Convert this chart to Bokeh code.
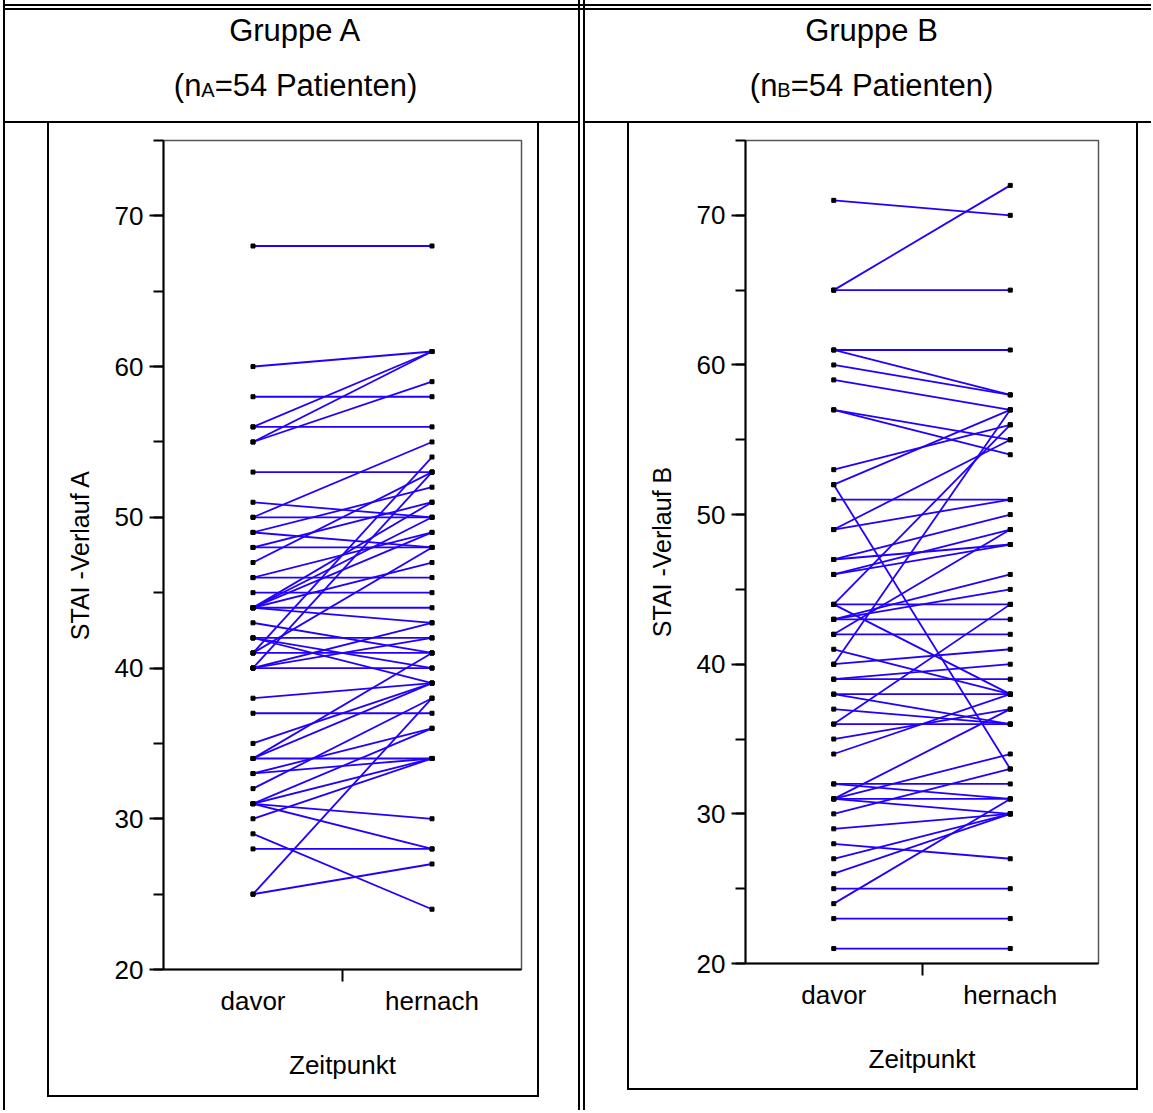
from bokeh.plotting import figure
from bokeh.layouts import row, column
from bokeh.models import Spacer, Range1d, SingleIntervalTicker, FixedTicker, ColumnDataSource
from bokeh.core.properties import value
from bokeh.embed import file_html
from bokeh.resources import INLINE

# ---------------- data ----------------
categories = ["davor", "hernach"]
y_ticks_major = 10

A_davor = [68, 60, 58, 56, 56, 55, 55, 53, 51, 50, 50, 49, 49, 48, 48, 47, 46, 46, 45, 44,
           44, 44, 44, 44, 43, 42, 42, 42, 41, 41, 41, 40, 40, 40, 40, 38, 37, 35, 34, 34,
           34, 33, 33, 32, 31, 31, 31, 31, 30, 29, 28, 25, 25, 44]
A_hernach = [68, 61, 58, 56, 61, 61, 59, 53, 50, 55, 50, 48, 52, 48, 51, 53, 46, 49, 45, 44,
             43, 51, 49, 47, 41, 42, 40, 39, 41, 54, 48, 40, 42, 43, 53, 39, 37, 39, 34, 39,
             41, 34, 36, 38, 30, 28, 34, 36, 34, 24, 28, 38, 27, 50]

B_davor = [71, 65, 65, 61, 61, 60, 59, 57, 57, 53, 52, 52, 51, 49, 49, 47, 47, 46, 44, 44,
           44, 43, 43, 43, 42, 42, 41, 40, 40, 39, 39, 38, 38, 37, 36, 36, 35, 34, 32, 32,
           31, 31, 31, 31, 30, 29, 28, 27, 26, 25, 24, 23, 21, 46]
B_hernach = [70, 72, 65, 61, 58, 58, 57, 55, 54, 56, 57, 33, 51, 55, 51, 50, 48, 48, 44, 38,
             56, 43, 46, 45, 42, 49, 38, 41, 57, 39, 40, 38, 36, 36, 36, 44, 37, 38, 32, 31,
             31, 30, 37, 34, 33, 30, 27, 30, 30, 25, 31, 23, 21, 49]

groups = ["Gruppe A", "Gruppe B"]
subs = ["A", "B"]
n_patients = [54, 54]
y_labels = ["STAI -Verlauf A", "STAI -Verlauf B"]
x_title = "Zeitpunkt"

FONT_NAME = "Liberation Sans"
FONT = value(FONT_NAME)
LINE_COLOR = "#2200FF"


def blk(w, h, color="black"):
    return Spacer(width=w, height=h, styles={"background-color": color})


def white(w, h):
    return Spacer(width=w, height=h)


def header(w, h, title, sub, n, cx):
    p = figure(width=w, height=h, x_range=Range1d(0, w), y_range=Range1d(h, 0),
               min_border=0, toolbar_location=None, output_backend="svg",
               x_axis_type=None, y_axis_type=None, outline_line_color=None)
    p.grid.visible = False
    p.text(x=[cx], y=[20], text=[title], text_font=FONT, text_font_size="31px",
           text_align="center", text_baseline="alphabetic", text_color="black")
    F = 31.0
    w1 = 0.889 * F
    w2 = 0.667 * 20
    rest = "=%d Patienten)" % n
    w3 = 6.532 * F
    x0 = cx - (w1 + w2 + w3) / 2
    p.text(x=[x0], y=[75], text=["(n"], text_font=FONT, text_font_size="31px",
           text_align="left", text_baseline="alphabetic", text_color="black")
    p.text(x=[x0 + w1], y=[79], text=[sub], text_font=FONT, text_font_size="20px",
           text_align="left", text_baseline="alphabetic", text_color="black")
    p.text(x=[x0 + w1 + w2], y=[75], text=[rest], text_font=FONT, text_font_size="31px",
           text_align="left", text_baseline="alphabetic", text_color="black")
    return p


def panel(w, h, bl, br, bt, bb, dav, her, ylabel):
    p = figure(width=w, height=h, x_range=Range1d(0, len(categories)), y_range=Range1d(20, 75),
               min_border_left=bl, min_border_right=br, min_border_top=bt, min_border_bottom=bb,
               toolbar_location=None, output_backend="svg")
    p.grid.visible = False
    p.outline_line_color = "#555555"
    p.outline_line_width = 1.5

    pos = [i + 0.5 for i in range(len(categories))]
    n = len(dav)
    src = ColumnDataSource(dict(x0=[pos[0]] * n, y0=dav, x1=[pos[1]] * n, y1=her))
    p.segment("x0", "y0", "x1", "y1", source=src, line_color=LINE_COLOR, line_width=1.8)
    p.scatter(x=[pos[0]] * n + [pos[1]] * n, y=list(dav) + list(her), marker="square",
              size=4, fill_color="black", line_color="black")

    yax = p.yaxis[0]
    yax.ticker = SingleIntervalTicker(interval=y_ticks_major, num_minor_ticks=2)
    yax.major_tick_out = 14
    yax.major_tick_in = 0
    yax.minor_tick_out = 10
    yax.minor_tick_in = 0
    yax.major_label_standoff = 6
    yax.axis_label = ylabel
    yax.axis_label_standoff = 18
    yax.axis_label_text_font_size = "25px"

    xax = p.xaxis[0]
    xax.ticker = FixedTicker(ticks=pos, minor_ticks=[1.0])
    xax.major_label_overrides = {pos[i]: categories[i] for i in range(len(categories))}
    xax.major_tick_out = 0
    xax.major_tick_in = 0
    xax.minor_tick_out = 12
    xax.minor_tick_in = 0
    xax.major_label_standoff = 4
    xax.axis_label = x_title
    xax.axis_label_standoff = 31
    xax.axis_label_text_font_size = "26px"

    for ax in (xax, yax):
        ax.axis_line_color = "black"
        ax.axis_line_width = 2
        ax.major_tick_line_color = "black"
        ax.major_tick_line_width = 2
        ax.minor_tick_line_color = "black"
        ax.minor_tick_line_width = 2
        ax.major_label_text_font = FONT_NAME
        ax.major_label_text_font_size = "26px"
        ax.major_label_text_color = "black"
        ax.axis_label_text_font = FONT_NAME
        ax.axis_label_text_font_style = "normal"
        ax.axis_label_text_color = "black"
    return p


H = 1110
REG = H - 123

# ---------- column A ----------
WA = 573
topA = column(white(WA, 4), blk(WA, 2), white(WA, 2), blk(WA, 2))
headA = header(WA, 111, groups[0], subs[0], n_patients[0], 290)
figA = panel(488, 972, 114, 16, 17, 126, A_davor, A_hernach, y_labels[0])
boxA = column(row(blk(2, 972), figA, blk(2, 972)), blk(492, 2), white(492, REG - 974))
regA = row(white(42, REG), boxA, white(39, REG))
colA = column(topA, headA, blk(WA, 2), regA)

# ---------- column B ----------
WB = 566
topB = column(white(WB, 4), blk(WB, 2), white(WB, 2), blk(WB, 2))
headB = header(WB, 111, groups[1], subs[1], n_patients[1], 286)
figB = panel(507, 965, 116, 38, 17, 125, B_davor, B_hernach, y_labels[1])
boxB = column(row(blk(2, 965), figB, blk(2, 965)), blk(511, 2), white(511, REG - 967))
regB = row(white(42, REG), boxB, white(13, REG))
colB = column(topB, headB, blk(WB, 2), regB)

# ---------- table borders ----------
left_border = blk(2, H)
divider = row(blk(2, H),
              column(white(3, 4), blk(3, 2), white(3, 2), blk(3, 2), white(3, H - 10)),
              blk(2, H))

root = row(left_border, colA, divider, colB, styles={"margin-left": "3px"})

open("out.html", "w").write(file_html(root, INLINE))
